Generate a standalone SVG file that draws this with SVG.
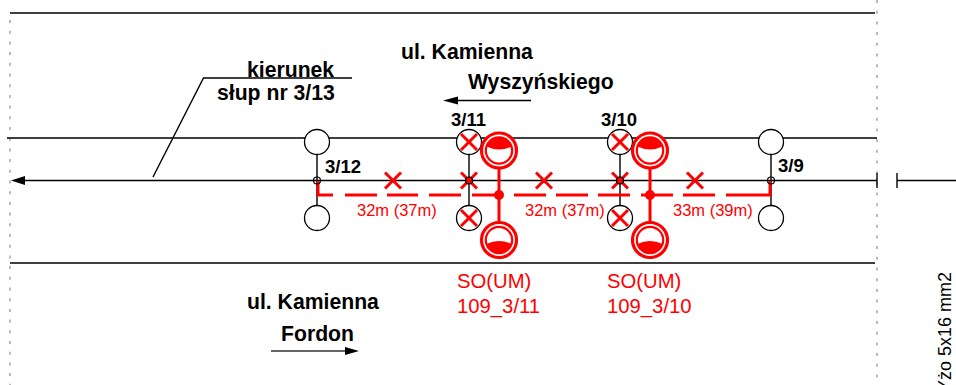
<svg xmlns="http://www.w3.org/2000/svg" width="956" height="385" viewBox="0 0 956 385">
<style>
text{font-family:"Liberation Sans",Arial,sans-serif}
.l{stroke:#000;stroke-width:1.4;fill:none}
.b{font-weight:bold;font-size:21.200px;fill:#000}
.p{font-weight:bold;font-size:18.500px;fill:#000}
.r{font-size:16.500px;fill:#f00}
.s{font-size:20.300px;fill:#f00}
.o{fill:#fff;stroke:#000;stroke-width:1.3}
.x{stroke:#f00;stroke-width:3;fill:none}
.ro{fill:#fff;stroke:#f00;stroke-width:3.200}
.ri{fill:#fff;stroke:#f00;stroke-width:2.200}
</style>
<defs>
<g id="xm"><path class="x" d="M-8-8L8 8M-8 8L8-8"/></g>
<g id="lt"><circle class="ro" r="17.500"/><circle class="ri" r="13.200"/><path fill="#f00" d="M-12.500-4A13.200 13.200 0 0 1 12.500-4Q0 2-12.500-4Z"/></g>
<g id="lb"><circle class="ro" r="17.500"/><circle class="ri" r="13.200"/><path fill="#f00" d="M-12.500 4A13.200 13.200 0 0 0 12.500 4Q0-2-12.500 4Z"/></g>
</defs>
<g id="frame">
<path d="M10 20V385M877 0V385" stroke="#aaa" stroke-width="1.600" stroke-dasharray="3 7.700" fill="none"/>
</g>
<g id="connectors">
<path class="l" d="M10 13H875M7 138H877M10 263H875"/>
<path class="l" d="M22 180.500H877M897 180.500H956M877 173V188M897 173V188"/>
<path fill="#000" d="M11 180.500L25 176V185Z"/>
<path class="l" d="M153 177L203.500 78H352"/>
<path class="l" d="M456 100.500H531"/>
<path fill="#000" d="M443 100.500L458 96.500V104.500Z"/>
<path stroke="#333" stroke-width="1.500" fill="none" d="M271 351H348"/>
<path fill="#000" d="M359 351L345 347V355Z"/>
<path class="l" d="M317 154V206M469 154V206M620 154V206M771 154V206"/>
<path stroke="#f00" stroke-width="3" fill="none" d="M318 181V195H333M345 195H377M387 195H418M429 195H461M472 195H503M514 195H546M556 195H588M598 195H630M641 195H673M683 195H715M726 195H770V181"/>
<path stroke="#f00" stroke-width="3" fill="none" d="M499 168V222M650 168V222"/>
</g>
<g id="pole-3-12"><circle class="o" cx="317" cy="142" r="12.500"/><circle class="o" cx="317" cy="218" r="12.500"/><circle cx="317" cy="180.500" r="3.500" fill="none" stroke="#000" stroke-width="1.200"/><text class="p" x="325" y="173">3/12</text></g>
<g id="pole-3-11"><circle class="o" cx="469" cy="142" r="12.500"/><circle class="o" cx="469" cy="218" r="12.500"/><use href="#xm" x="469" y="142"/><use href="#xm" x="469" y="218"/><use href="#xm" x="469" y="180.500"/><circle cx="469" cy="180.500" r="3.500" fill="none" stroke="#000" stroke-width="1.200"/><text class="p" x="451" y="126">3/11</text></g>
<g id="pole-3-10"><circle class="o" cx="620" cy="142" r="12.500"/><circle class="o" cx="620" cy="218" r="12.500"/><use href="#xm" x="620" y="142"/><use href="#xm" x="620" y="218"/><use href="#xm" x="620" y="180.500"/><circle cx="620" cy="180.500" r="3.500" fill="none" stroke="#000" stroke-width="1.200"/><text class="p" x="601" y="126">3/10</text></g>
<g id="pole-3-9"><circle class="o" cx="771" cy="142" r="12.500"/><circle class="o" cx="771" cy="218" r="12.500"/><circle cx="771" cy="180.500" r="3.500" fill="none" stroke="#000" stroke-width="1.200"/><text class="p" x="778" y="172">3/9</text></g>
<g id="lamp-3-11"><use href="#lt" x="499" y="150.500"/><use href="#lb" x="499" y="240"/><circle cx="499" cy="195" r="5" fill="#f00"/></g>
<g id="lamp-3-10"><use href="#lt" x="650" y="150.500"/><use href="#lb" x="650" y="240"/><circle cx="650" cy="195" r="5" fill="#f00"/></g>
<g id="crosses"><use href="#xm" x="393" y="180.500"/><use href="#xm" x="544" y="180.500"/><use href="#xm" x="695" y="180.500"/></g>
<g id="labels">
<text class="b" x="247" y="77">kierunek</text>
<text class="b" x="217" y="100">słup nr 3/13</text>
<text class="b" x="401" y="59">ul. Kamienna</text>
<text class="b" x="468" y="89">Wyszyńskiego</text>
<text class="b" x="247" y="309">ul. Kamienna</text>
<text class="b" x="281" y="341">Fordon</text>
<text class="r" x="357" y="216">32m (37m)</text>
<text class="r" x="525" y="216">32m (37m)</text>
<text class="r" x="673" y="216">33m (39m)</text>
<text class="s" x="457" y="288">SO(UM)</text>
<text class="s" x="457" y="313">109_3/11</text>
<text class="s" x="607" y="288">SO(UM)</text>
<text class="s" x="607" y="313">109_3/10</text>
<text transform="translate(951 272) rotate(-90)" text-anchor="end" font-size="18px" fill="#000">Yżo 5x16 mm2</text>
</g>
</svg>
